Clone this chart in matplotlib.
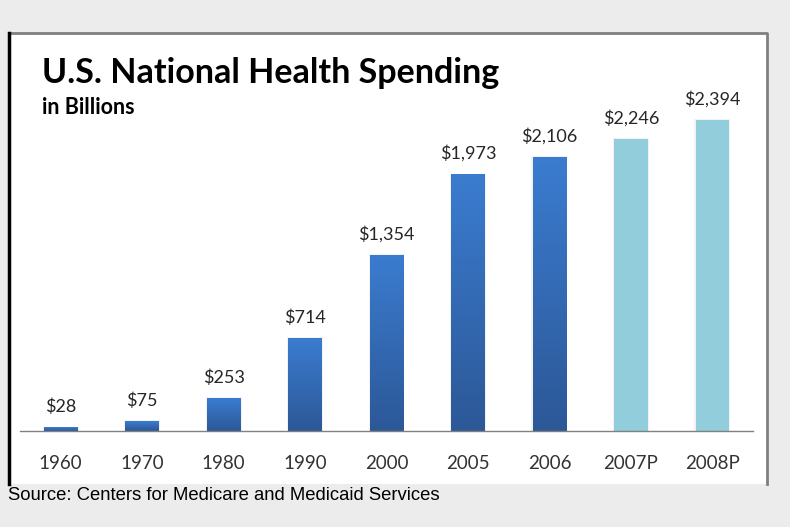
import matplotlib.pyplot as plt
import numpy as np
from matplotlib.patches import Rectangle
from matplotlib.lines import Line2D
from matplotlib.colors import LinearSegmentedColormap

# National health spending, billions of dollars (P = projected)
years = ["1960", "1970", "1980", "1990", "2000", "2005", "2006", "2007P", "2008P"]
spending = [28, 75, 253, 714, 1354, 1973, 2106, 2246, 2394]
projected = [False, False, False, False, False, False, False, True, True]

W, H = 790, 527
fig = plt.figure(figsize=(W / 100, H / 100), dpi=100)
fig.patch.set_facecolor("#ececec")


def fx(px):
    return px / W


def fy(py):
    return 1 - py / H


# white chart panel with its borders
fig.add_artist(Rectangle((fx(8), fy(484)), fx(767) - fx(8), fy(33) - fy(484),
                         transform=fig.transFigure, facecolor="white",
                         edgecolor="none", zorder=0))
fig.add_artist(Line2D([fx(9), fx(767), fx(767)], [fy(33), fy(33), fy(484)],
                      transform=fig.transFigure, color="#808080", lw=2, zorder=1))
fig.add_artist(Line2D([fx(9), fx(9)], [fy(33), fy(484)],
                      transform=fig.transFigure, color="black", lw=2.5, zorder=1))

ymax = 2600
base_px = 431
top_px = base_px - ymax * 0.1301
ax = fig.add_axes([fx(20), fy(base_px), fx(753) - fx(20), fy(top_px) - fy(base_px)])
ax.set_facecolor("none")
ax.set_xlim(-0.5, len(years) - 0.5)
ax.set_ylim(0, ymax)
for s in ["top", "right", "left"]:
    ax.spines[s].set_visible(False)
ax.spines["bottom"].set_color("#808080")
ax.spines["bottom"].set_linewidth(1.0)
ax.set_yticks([])
ax.set_xticks(range(len(years)))
ax.set_xticklabels(years, fontfamily="Lato", fontsize=13.5, color="#333333")
ax.tick_params(axis="x", length=0, pad=17)

blue_grad = LinearSegmentedColormap.from_list("blue", ["#2c5897", "#3b7cd0"])
width = 0.41
for i, (val, proj) in enumerate(zip(spending, projected)):
    x0 = i - width / 2
    # soft drop shadow
    ax.add_patch(Rectangle((x0 - 0.015, 0), width + 0.03, val + 6,
                           facecolor="#000000", alpha=0.05, edgecolor="none", zorder=1))
    bar = Rectangle((x0, 0), width, val, facecolor="#92cddc" if proj else "none",
                    edgecolor="none", zorder=2)
    ax.add_patch(bar)
    if not proj:
        grad = np.linspace(0, 1, 256).reshape(-1, 1)
        im = ax.imshow(grad, cmap=blue_grad, origin="lower", aspect="auto",
                       extent=(x0, x0 + width, 0, val), zorder=2)
        im.set_clip_path(bar)
    ax.annotate(f"${val:,}", (i, val), xytext=(0, 15), textcoords="offset points",
                ha="center", va="center", fontfamily="Lato", fontsize=13,
                color="#262626")

fig.text(fx(42), fy(73), "U.S. National Health Spending", fontfamily="Lato",
         fontweight="bold", fontsize=24.5, color="black", va="center", ha="left")
fig.text(fx(42), fy(107), "in Billions", fontfamily="Lato", fontweight="bold",
         fontsize=15.5, color="black", va="center", ha="left")
fig.text(fx(8), fy(496), "Source: Centers for Medicare and Medicaid Services",
         fontfamily="Liberation Sans", fontsize=13.3, color="black",
         va="center", ha="left")

fig.savefig("out.png", dpi=100, facecolor=fig.get_facecolor())
